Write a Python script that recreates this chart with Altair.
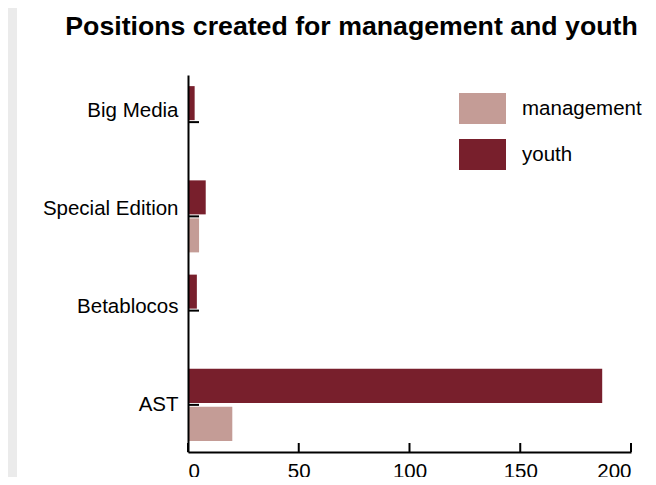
import altair as alt
import pandas as pd

categories = ["Big Media", "Special Edition", "Betablocos", "AST"]
management = [0, 5, 0, 20]
youth = [3, 8, 4, 187]
series_names = ["management", "youth"]
series_colors = ["#c49c96", "#781f2c"]
x_ticks = [0, 50, 100, 150, 200]
label_shift = [-11, -7.3, -3.6, 0.1]

rows = []
for c, m, y in zip(categories, management, youth):
    rows.append({"category": c, "series": "management", "value": m})
    rows.append({"category": c, "series": "youth", "value": y})
df = pd.DataFrame(rows)
cat_df = pd.DataFrame({"category": categories})
tick_df = pd.DataFrame({"t": x_ticks})

FONT = "Liberation Sans"
W, H = 443, 377

yscale = alt.Scale(domain=categories, paddingInner=0.236, paddingOuter=0.118)
xscale = alt.Scale(domain=[0, 200], nice=False)

label_offset = {
    "condition": [
        {"test": f"datum.value === '{c}'", "value": s}
        for c, s in zip(categories[:-1], label_shift[:-1])
    ],
    "value": label_shift[-1],
}

bars = alt.Chart(df).mark_bar().encode(
    y=alt.Y("category:N", sort=categories, scale=yscale,
            axis=alt.Axis(title=None, ticks=False, labelFontSize=20.5, labelFont=FONT,
                          labelColor="black", labelPadding=10, domainColor="black",
                          domainWidth=2, zindex=1, labelOffset=label_offset)),
    yOffset=alt.YOffset("series:N", sort=["youth", "management"],
                        scale=alt.Scale(paddingInner=0.105, paddingOuter=0)),
    x=alt.X("value:Q", scale=xscale,
            axis=alt.Axis(title=None, values=x_ticks, ticks=False, grid=False,
                          labelFontSize=20.5, labelFont=FONT, labelColor="black",
                          labelPadding=9, domainColor="black", domainWidth=2, zindex=1)),
    color=alt.Color("series:N", scale=alt.Scale(domain=series_names, range=series_colors),
                    legend=alt.Legend(title=None, orient="none", legendX=271, legendY=10,
                                      symbolType="M-1,-0.66H1V0.66H-1Z", symbolSize=2209,
                                      symbolStrokeWidth=0, symbolOpacity=1,
                                      labelFontSize=20.5, labelFont=FONT, labelColor="black",
                                      labelOffset=16, rowPadding=6, padding=0)),
)

yticks = alt.Chart(cat_df).mark_rule(color="black", strokeWidth=2).encode(
    y=alt.Y("category:N", sort=categories, scale=yscale, bandPosition=0.5),
    x=alt.value(0),
    x2=alt.value(11),
)

xticks = alt.Chart(tick_df).mark_rule(color="black", strokeWidth=2).encode(
    x=alt.X("t:Q", scale=xscale),
    y=alt.value(H - 9),
    y2=alt.value(H),
)

strip = alt.Chart(pd.DataFrame({"a": [0]})).mark_rect(color="#ebebeb").encode(
    x=alt.value(-180), x2=alt.value(-171), y=alt.value(-67), y2=alt.value(H + 25),
)

chart = alt.layer(strip, bars, yticks, xticks).properties(
    width=W, height=H,
    padding={"left": 180, "top": 67, "right": 17, "bottom": 25},
    autosize=alt.AutoSizeParams(type="none"),
    title=alt.TitleParams("Positions created for management and youth", fontSize=26.7,
                          fontWeight="bold", font=FONT, color="black", anchor="middle",
                          frame="group", dx=-58, dy=54, offset=0, baseline="alphabetic"),
).configure_view(stroke=None)

chart.save("out.html", embed_options={"renderer": "svg", "actions": False})
